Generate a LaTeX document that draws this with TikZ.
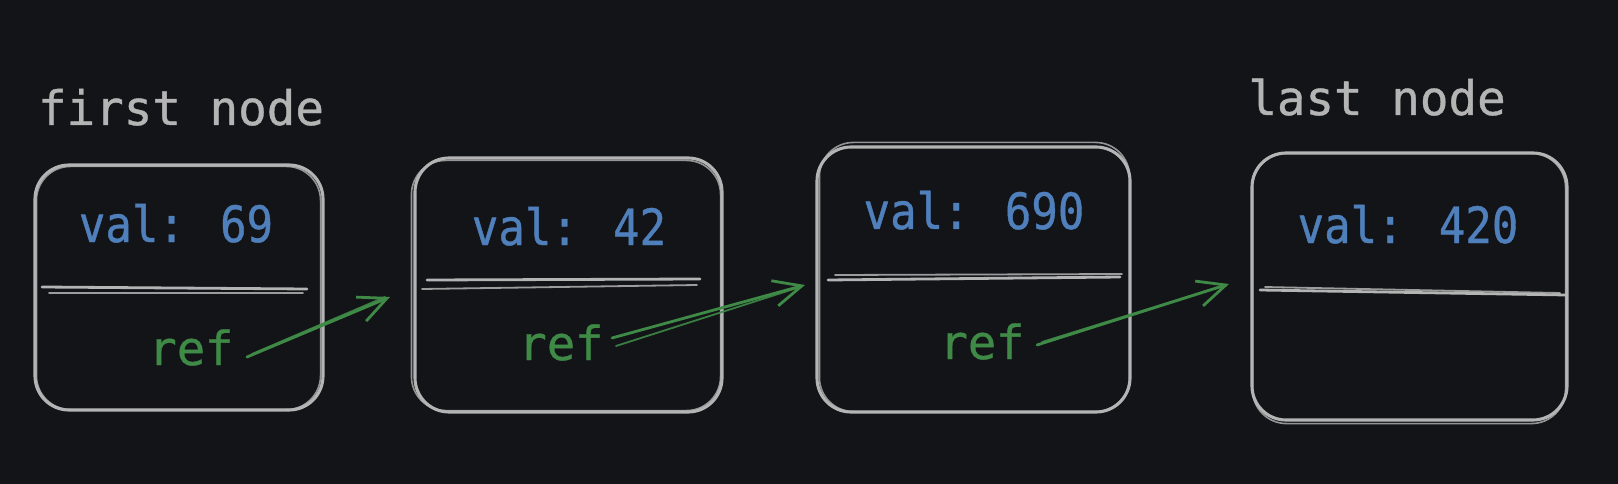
\documentclass[tikz,border=0pt]{standalone}
\usepackage{fontspec}
\newfontfamily\handfont[FakeBold=0.8]{DejaVu Sans Mono}
\newfontfamily\valfont[FakeBold=0.8,FakeStretch=0.88]{DejaVu Sans Mono}
\usetikzlibrary{arrows.meta}
\definecolor{bg}{HTML}{131418}
\definecolor{sk}{HTML}{B4B4B4}
\definecolor{valc}{HTML}{4F80BC}
\definecolor{refc}{HTML}{3E8A46}
\tikzset{
  x=1pt,y=-1pt,
  listbox/.style={draw=sk,line width=3.1pt,rounded corners=34pt,inner sep=0pt},
  ghost/.style={draw=sk,line width=1.6pt,rounded corners=34pt,opacity=0.8},
  divline/.style={draw=sk,line width=2.8pt,line cap=round},
  divline2/.style={draw=sk,line width=1.8pt,line cap=round,opacity=0.85},
  label/.style={text=sk,font=\handfont\fontsize{47.5}{50}\selectfont,anchor=base,inner sep=0pt},
  valtext/.style={text=valc,font=\valfont\fontsize{50}{52}\selectfont,anchor=base,inner sep=0pt},
  reftext/.style={text=refc,font=\handfont\fontsize{47}{50}\selectfont,anchor=base,inner sep=0pt},
  link/.style={draw=refc,line width=2.8pt,line cap=round,-{Straight Barb[length=28pt,width=26pt,line width=2.8pt]}},
  link2/.style={draw=refc,line width=1.8pt,line cap=round,opacity=0.9},
}
\begin{document}
\begin{tikzpicture}
\fill[bg] (0,0) rectangle (1618,484);
\useasboundingbox (0,0) rectangle (1618,484);

% boxes
\node[listbox,minimum width=288pt,minimum height=245pt] (n1) at (179,287.5) {};
\node[listbox,minimum width=307pt,minimum height=254pt] (n2) at (568.5,285) {};
\node[listbox,minimum width=313pt,minimum height=265pt] (n3) at (973.5,279.5) {};
\node[listbox,minimum width=315pt,minimum height=267pt] (n4) at (1409.5,286.5) {};

% sketchy second strokes
\draw[ghost] ([shift={(3,-2)}]n1.south west) rectangle ([shift={(-4,3)}]n1.north east);
\draw[ghost] ([shift={(-2,-3)}]n2.south west) rectangle ([shift={(-3,4)}]n2.north east);
\draw[ghost] ([shift={(4,-2)}]n3.south west) rectangle ([shift={(-2,-3)}]n3.north east);
\draw[ghost] ([shift={(2,2)}]n4.south west) rectangle ([shift={(-3,2)}]n4.north east);

% dividers
\coordinate (d1a) at (42,287); \coordinate (d1b) at (307,289);
\coordinate (d1c) at (49,293); \coordinate (d1d) at (303,293);
\draw[divline] (d1a) -- (d1b);
\draw[divline2] (d1c) -- (d1d);
\coordinate (d2a) at (427,280); \coordinate (d2b) at (700,279);
\coordinate (d2c) at (422,289); \coordinate (d2d) at (697,285);
\draw[divline] (d2a) -- (d2b);
\draw[divline2] (d2c) -- (d2d);
\coordinate (d3a) at (828,280); \coordinate (d3b) at (1120,277);
\coordinate (d3c) at (835,275); \coordinate (d3d) at (1122,274);
\draw[divline] (d3a) -- (d3b);
\draw[divline2] (d3c) -- (d3d);
\coordinate (d4a) at (1260,290); \coordinate (d4b) at (1567,295);
\coordinate (d4c) at (1265,287); \coordinate (d4d) at (1560,293);
\draw[divline] (d4a) -- (d4b);
\draw[divline2] (d4c) -- (d4d);

% labels
\node[label] (l1) at (181,125) {first node};
\node[label] (l4) at (1377,115) {last node};

% values
\node[valtext] (v1) at (176,242) {val: 69};
\node[valtext] (v2) at (569,245) {val: 42};
\node[valtext] (v3) at (974,229) {val: 690};
\node[valtext] (v4) at (1408,243) {val: 420};

% refs
\node[reftext] (r1) at (191,365) {ref};
\node[reftext] (r2) at (561,360) {ref};
\node[reftext] (r3) at (982,359) {ref};

% link ends
\coordinate (s1) at (247,357); \coordinate (t1) at (390,297);
\coordinate (s2) at (612,338); \coordinate (t2) at (805,285);
\coordinate (s3) at (1037,345); \coordinate (t3) at (1229,284);
\coordinate (s1b) at (252,354); \coordinate (t1b) at (385,297);
\coordinate (s2b) at (616,346); \coordinate (t2b) at (800,287);
\coordinate (s3b) at (1042,342); \coordinate (t3b) at (1222,286);

\draw[link] (s1) -- (t1);
\draw[link2] (s1b) -- (t1b);
\draw[link] (s2) -- (t2);
\draw[link2] (s2b) -- (t2b);
\draw[link] (s3) -- (t3);
\draw[link2] (s3b) -- (t3b);
\end{tikzpicture}
\end{document}
